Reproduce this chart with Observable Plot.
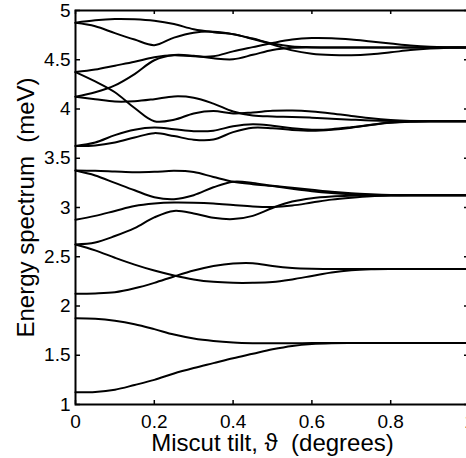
<!DOCTYPE html>
<html><head><meta charset="utf-8">
<script src="https://cdn.jsdelivr.net/npm/d3@7"></script>
<script src="https://cdn.jsdelivr.net/npm/@observablehq/plot@0.6"></script>
<style>html,body{margin:0;padding:0;overflow:hidden;background:#fff}</style>
</head><body><div id="chart"></div>
<script>
// Miscut tilt (degrees) sample positions
const tilt = [0,0.05,0.1,0.15,0.2,0.25,0.3,0.35,0.4,0.45,0.5,0.55,0.6,0.65,0.7,0.75,0.8,0.85,0.9,0.95,1];

// Energy levels (meV)
const levelA  = [1.125,1.128,1.15,1.198,1.25,1.315,1.37,1.42,1.47,1.515,1.56,1.595,1.615,1.623,1.625,1.625,1.625,1.625,1.625,1.625,1.625];
const levelB  = [1.875,1.87,1.85,1.815,1.765,1.71,1.67,1.645,1.63,1.623,1.621,1.622,1.624,1.625,1.625,1.625,1.625,1.625,1.625,1.625,1.625];
const levelC  = [2.125,2.128,2.14,2.18,2.235,2.30,2.36,2.405,2.432,2.435,2.405,2.385,2.377,2.375,2.375,2.375,2.375,2.375,2.375,2.375,2.375];
const levelD  = [2.625,2.565,2.49,2.42,2.36,2.31,2.27,2.245,2.235,2.235,2.243,2.27,2.305,2.34,2.362,2.372,2.375,2.375,2.375,2.375,2.375];
const levelG  = [2.625,2.645,2.71,2.79,2.90,2.965,2.94,2.895,2.882,2.915,2.995,3.06,3.095,3.112,3.12,3.124,3.125,3.125,3.125,3.125,3.125];
const levelF  = [2.875,2.915,2.965,3.015,3.04,3.05,3.048,3.04,3.025,3.01,3.005,3.02,3.05,3.08,3.10,3.115,3.122,3.125,3.125,3.125,3.125];
const levelE1 = [3.375,3.372,3.365,3.358,3.362,3.372,3.36,3.31,3.262,3.237,3.22,3.20,3.18,3.16,3.145,3.135,3.128,3.125,3.125,3.125,3.125];
const levelE2 = [3.375,3.325,3.25,3.175,3.105,3.085,3.125,3.205,3.262,3.25,3.218,3.19,3.165,3.147,3.135,3.128,3.125,3.125,3.125,3.125,3.125];
const levelH1 = [3.625,3.66,3.735,3.79,3.812,3.795,3.775,3.78,3.825,3.845,3.83,3.805,3.79,3.795,3.815,3.84,3.862,3.872,3.875,3.875,3.875];
const levelH2 = [3.625,3.63,3.66,3.71,3.755,3.725,3.688,3.69,3.765,3.81,3.805,3.788,3.78,3.79,3.81,3.838,3.86,3.871,3.875,3.875,3.875];
const levelK2 = [4.125,4.10,4.075,4.078,4.10,4.128,4.115,4.055,3.975,3.935,3.925,3.92,3.912,3.902,3.892,3.883,3.878,3.876,3.875,3.875,3.875];
const levelJ2 = [4.375,4.28,4.17,4.01,3.875,3.89,3.955,3.98,3.955,3.965,3.982,3.985,3.975,3.955,3.93,3.905,3.888,3.879,3.876,3.875,3.875];
const levelK1 = [4.125,4.17,4.24,4.355,4.495,4.548,4.54,4.515,4.505,4.55,4.60,4.622,4.625,4.625,4.625,4.625,4.625,4.625,4.625,4.625,4.625];
const levelJ1 = [4.375,4.40,4.44,4.48,4.525,4.545,4.535,4.535,4.585,4.628,4.67,4.705,4.72,4.718,4.705,4.685,4.665,4.645,4.632,4.627,4.625];
const levelI1 = [4.875,4.90,4.913,4.91,4.895,4.862,4.81,4.78,4.76,4.715,4.665,4.635,4.628,4.625,4.625,4.625,4.625,4.625,4.625,4.625,4.625];
const levelI2 = [4.875,4.84,4.77,4.705,4.648,4.725,4.775,4.785,4.76,4.71,4.655,4.595,4.562,4.548,4.545,4.555,4.575,4.598,4.613,4.621,4.625];

const xTicks = [0,0.2,0.4,0.6,0.8,1];
const xTickLabels = ["0","0.2","0.4","0.6","0.8","1"];
const yTicks = [1,1.5,2,2.5,3,3.5,4,4.5,5];
const yTickLabels = ["1","1.5","2","2.5","3","3.5","4","4.5","5"];
const xLabel = "Miscut tilt, \u03D1\u00a0\u00a0(degrees)";
const yLabel = "Energy spectrum\u00a0\u00a0(meV)";

const series = [levelA,levelB,levelC,levelD,levelG,levelF,levelE1,levelE2,levelH1,levelH2,levelK2,levelJ2,levelK1,levelJ1,levelI1,levelI2];
const rows = series.flatMap((ys, k) => ys.map((y, i) => ({x: tilt[i], y, k})));

const W = 469, H = 458, mT = 10, mB = 54, mL = 75, mR = 0;
const plotH = H - mT - mB, plotW = W - mL - mR;

const chart = Plot.plot({
  width: W, height: H,
  marginTop: mT, marginBottom: mB, marginLeft: mL, marginRight: mR,
  style: {fontFamily: "'Liberation Sans', Arial, Helvetica, sans-serif", fontSize: "19px", color: "black", background: "white", maxWidth: "none", overflow: "visible"},
  x: {domain: [0, 1]},
  y: {domain: [1, 5]},
  marks: [
    Plot.line(rows, {x: "x", y: "y", z: "k", stroke: "black", strokeWidth: 2, curve: "catmull-rom"}),
    Plot.tickX(xTicks, {x: d => d, stroke: "black", strokeWidth: 1.5, insetTop: plotH - 4}),
    Plot.tickX(xTicks, {x: d => d, stroke: "black", strokeWidth: 1.5, insetBottom: plotH - 4}),
    Plot.tickY(yTicks, {y: d => d, stroke: "black", strokeWidth: 1.5, insetRight: plotW - 5}),
    Plot.tickY(yTicks, {y: d => d, stroke: "black", strokeWidth: 1.5, insetLeft: plotW - 5}),
    Plot.frame({stroke: "black", strokeWidth: 2}),
    Plot.axisX({ticks: xTicks, tickFormat: (d, i) => xTickLabels[i], tickSize: 0, tickPadding: 10, label: null, fontSize: 19}),
    Plot.axisY({ticks: yTicks, tickFormat: (d, i) => yTickLabels[i], tickSize: 0, tickPadding: 5, label: null, fontSize: 19}),
    Plot.text([xLabel], {text: d => d, frameAnchor: "bottom", textAnchor: "middle", lineAnchor: "middle", dy: 38.5, fontSize: 24}),
    Plot.text([yLabel], {text: d => d, frameAnchor: "left", textAnchor: "middle", lineAnchor: "middle", rotate: -90, dx: -49, fontSize: 24})
  ]
});
document.getElementById("chart").appendChild(chart);
</script>
</body></html>
